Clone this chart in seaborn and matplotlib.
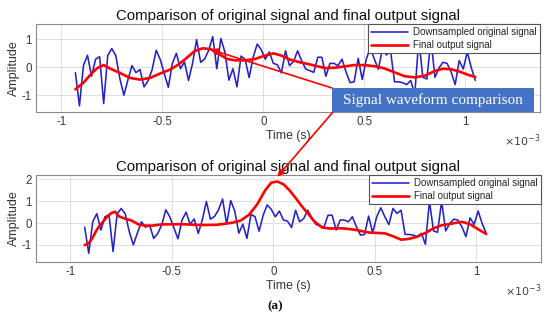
import numpy as np
import pandas as pd
import matplotlib
matplotlib.use('Agg')
import matplotlib.pyplot as plt
import seaborn as sns
from matplotlib.patches import ConnectionPatch, Rectangle

# ---------------- data (time in ms, i.e. x10^-3 s) ----------------
t_ms = [-0.93, -0.91, -0.89, -0.87, -0.85, -0.83, -0.81, -0.79, -0.77, -0.75,
        -0.73, -0.71, -0.69, -0.67, -0.65, -0.63, -0.61, -0.59, -0.57, -0.55,
        -0.53, -0.51, -0.49, -0.47, -0.45, -0.43, -0.41, -0.39, -0.37, -0.35,
        -0.33, -0.31, -0.29, -0.27, -0.25, -0.23, -0.21, -0.19, -0.17, -0.15,
        -0.13, -0.11, -0.09, -0.07, -0.05, -0.03, -0.01, 0.01, 0.03, 0.05,
        0.07, 0.09, 0.11, 0.13, 0.15, 0.17, 0.19, 0.21, 0.23, 0.25,
        0.27, 0.29, 0.31, 0.33, 0.35, 0.37, 0.39, 0.41, 0.43, 0.45,
        0.47, 0.49, 0.51, 0.53, 0.55, 0.57, 0.59, 0.61, 0.63, 0.65,
        0.67, 0.69, 0.71, 0.73, 0.75, 0.77, 0.79, 0.81, 0.83, 0.85,
        0.87, 0.89, 0.91, 0.93, 0.95, 0.97, 0.99, 1.01, 1.03, 1.05]
orig = [-0.19, -1.38, 0.07, 0.43, -0.32, 0.29, 0.38, -1.30, 0.42, 0.67,
        0.42, -0.40, -1.00, -0.45, 0.06, -0.19, -0.08, -0.70, -0.48, -0.08,
        0.61, 0.28, -0.22, -0.72, 0.14, 0.50, -0.05, 0.19, -0.47, 0.14,
        0.99, 0.18, 0.30, 0.61, 1.10, -0.05, 1.03, 0.55, -0.46, -0.05,
        -0.70, 0.40, 0.29, -0.37, 0.36, 0.83, 0.63, 0.29, 0.55, 0.14,
        0.09, -0.20, 0.59, 0.06, 0.21, 0.59, 0.24, -0.06, -0.12, -0.18,
        0.36, 0.36, -0.32, 0.14, 0.14, 0.06, 0.29, -0.17, -0.55, -0.52,
        0.32, -0.44, 0.29, 0.70, 0.29, -0.07, 0.67, 0.44, 0.59, -0.52,
        -0.52, -0.55, -0.62, -0.47, -0.97, 1.00, -0.36, -0.42, 1.00, -0.36,
        -0.02, 0.18, 0.14, -0.17, -0.62, 0.24, -0.06, 0.55, -0.02, -0.47]

top_out_t = [-0.93, -0.89, -0.85, -0.82, -0.79, -0.76, -0.71, -0.66, -0.61, -0.56,
             -0.51, -0.46, -0.42, -0.38, -0.34, -0.30, -0.26, -0.22, -0.18, -0.14,
             -0.09, -0.04, 0.00, 0.05, 0.09, 0.13, 0.18, 0.22, 0.26, 0.31,
             0.36, 0.40, 0.45, 0.50, 0.55, 0.60, 0.65, 0.70, 0.75, 0.80,
             0.85, 0.89, 0.93, 0.97, 1.01, 1.05]
top_out = [-0.79, -0.55, -0.22, -0.02, 0.08, -0.04, -0.20, -0.38, -0.44, -0.38,
           -0.22, -0.08, 0.10, 0.33, 0.58, 0.68, 0.65, 0.48, 0.30, 0.25,
           0.25, 0.30, 0.40, 0.50, 0.42, 0.28, 0.18, 0.12, 0.05, -0.03,
           -0.01, 0.03, 0.08, 0.08, 0.04, -0.04, -0.18, -0.32, -0.36, -0.30,
           -0.13, -0.05, -0.07, -0.15, -0.26, -0.35]

bot_out_t = [-0.93, -0.91, -0.89, -0.87, -0.85, -0.82, -0.80, -0.78, -0.76, -0.73,
             -0.70, -0.66, -0.61, -0.55, -0.45, -0.36, -0.28, -0.20, -0.16, -0.12,
             -0.08, -0.04, -0.01, 0.02, 0.05, 0.08, 0.11, 0.14, 0.17, 0.20,
             0.24, 0.28, 0.34, 0.40, 0.47, 0.55, 0.59, 0.63, 0.67, 0.71,
             0.75, 0.79, 0.83, 0.87, 0.93, 0.97, 1.01, 1.05]
bot_out = [-1.00, -0.93, -0.65, -0.30, -0.05, 0.28, 0.45, 0.52, 0.30, 0.20,
           0.12, -0.08, -0.13, -0.06, -0.05, -0.09, -0.08, 0.02, 0.12, 0.38,
           0.85, 1.50, 1.85, 1.90, 1.78, 1.50, 1.15, 0.78, 0.45, 0.10,
           -0.20, -0.25, -0.24, -0.30, -0.43, -0.47, -0.60, -0.76, -0.72, -0.62,
           -0.45, -0.24, -0.10, -0.04, 0.06, -0.05, -0.28, -0.50]

x_ticks = [-1, -0.5, 0, 0.5, 1]
x_tick_labels = ['-1', '-0.5', '0', '0.5', '1']
top_yticks = [-1, 0, 1]
bot_yticks = [-1, 0, 1, 2]
title_txt = 'Comparison of original signal and final output signal'
series_names = ['Downsampled original signal', 'Final output signal']

# ---------------- style ----------------
sns.set_theme(style='whitegrid')
plt.rcParams['font.family'] = ['Liberation Sans', 'DejaVu Sans']

W, H = 550, 321
fig = plt.figure(figsize=(W / 100, H / 100), dpi=100)
fig.patch.set_facecolor('white')

ax1 = fig.add_axes([36 / W, 1 - 112 / H, 504 / W, 88 / H])
ax2 = fig.add_axes([36 / W, 1 - 262 / H, 505 / W, 87 / H])

configs = [
    (ax1, top_out_t, top_out, (-1.125, 1.37), (-1.6, 1.55), top_yticks),
    (ax2, bot_out_t, bot_out, (-1.17, 1.32), (-1.78, 2.2), bot_yticks),
]

for ax, rt, ry, xlim, ylim, yt in configs:
    df_o = pd.DataFrame({'t': t_ms, 'amp': orig})
    df_r = pd.DataFrame({'t': rt, 'amp': ry})
    sns.lineplot(data=df_o, x='t', y='amp', ax=ax, color='#2323c8', lw=1.15,
                 sort=False, estimator=None, label=series_names[0])
    sns.lineplot(data=df_r, x='t', y='amp', ax=ax, color='#ff0000', lw=1.9,
                 sort=False, estimator=None, label=series_names[1])
    ax.set_xlim(*xlim)
    ax.set_ylim(*ylim)
    ax.set_xticks(x_ticks)
    ax.set_xticklabels(x_tick_labels)
    ax.set_yticks(yt)
    ax.set_yticklabels([str(v) for v in yt])
    ax.set_facecolor('white')
    ax.grid(True, color='#dedede', lw=0.7)
    for s in ax.spines.values():
        s.set_color('#8a8a8a')
        s.set_linewidth(0.8)
    ax.tick_params(axis='both', labelsize=8.3, colors='#3a3a3a', direction='in',
                   length=2.5, width=0.6, pad=3)
    ax.set_title(title_txt, fontsize=10.8, pad=3, color='#111111')
    ax.set_xlabel('Time (s)', fontsize=8.8, labelpad=1, color='#333333')
    ax.set_ylabel('Amplitude', fontsize=9, labelpad=1, color='#333333')
    leg = ax.legend(loc='upper right', fontsize=7, frameon=True, fancybox=False,
                    edgecolor='#555555', framealpha=1, borderaxespad=0.05,
                    handlelength=3.8, borderpad=0.3, labelspacing=0.3,
                    handletextpad=0.5)
    leg.get_frame().set_linewidth(0.8)
    ax.text(1.0, -0.33, r'$\times10^{-3}$', transform=ax.transAxes, ha='right',
            va='center', fontsize=8, color='#444444')

# annotation box
box = Rectangle((332 / W, 1 - 112 / H), 202 / W, 24 / H, transform=fig.transFigure,
                facecolor='#4472c4', edgecolor='none', zorder=5)
fig.add_artist(box)
fig.text(433 / W, 1 - 100 / H, 'Signal waveform comparison', ha='center', va='center',
         fontsize=11, color='white', family=['Liberation Serif', 'DejaVu Serif'], zorder=6)

arr1 = ConnectionPatch(xyA=(332 / W, 1 - 88 / H), coordsA='figure fraction',
                       xyB=(-0.262, 0.64), coordsB='data', axesB=ax1,
                       arrowstyle='-|>', color='#ff0000', lw=1.2, mutation_scale=10,
                       zorder=4, clip_on=False)
fig.add_artist(arr1)
arr2 = ConnectionPatch(xyA=(333 / W, 1 - 112 / H), coordsA='figure fraction',
                       xyB=(0.02, 2.12), coordsB='data', axesB=ax2,
                       arrowstyle='-|>', color='#ff0000', lw=1.2, mutation_scale=10,
                       zorder=4, clip_on=False)
fig.add_artist(arr2)

fig.text(0.5, 1 - 306 / H, '(a)', ha='center', va='center', fontsize=9.5,
         family=['Liberation Serif', 'DejaVu Serif'], weight='bold', color='#111111')

fig.savefig('out.png', dpi=100, facecolor='white')
